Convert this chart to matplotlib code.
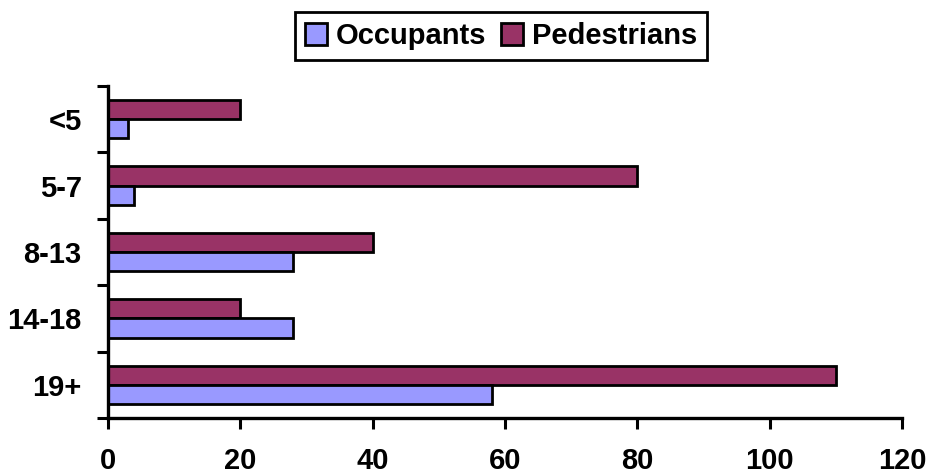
import matplotlib
matplotlib.use("Agg")
import matplotlib.pyplot as plt
import numpy as np
from matplotlib.ticker import FixedLocator

categories = ["<5", "5-7", "8-13", "14-18", "19+"]
occupants = [3, 4, 28, 28, 58]
pedestrians = [20, 80, 40, 20, 110]
xticks = [0, 20, 40, 60, 80, 100, 120]

plt.rcParams['font.family'] = ['Liberation Sans', 'DejaVu Sans']
plt.rcParams['font.weight'] = 'bold'

fig = plt.figure(figsize=(9.27, 4.75), dpi=100)
ax = fig.add_axes([108/927, 1-418/475, (902-108)/927, (418-86)/475])

y = np.arange(len(categories))
h = 0.29
ax.barh(y - h/2, pedestrians, height=h, color='#993366', edgecolor='black', linewidth=2.0, label='Pedestrians')
ax.barh(y + h/2, occupants, height=h, color='#9999FF', edgecolor='black', linewidth=2.0, label='Occupants')

ax.set_xlim(0, 120)
ax.set_ylim(len(categories) - 0.5, -0.5)
ax.set_xticks(xticks)
ax.set_xticklabels([str(v) for v in xticks], fontsize=21, fontweight='bold')
ax.set_yticks(y)
ax.set_yticklabels(categories, fontsize=21, fontweight='bold')
ax.yaxis.set_minor_locator(FixedLocator(np.arange(len(categories) + 1) - 0.5))
ax.tick_params(axis='y', which='major', length=0, pad=19)
ax.tick_params(axis='y', which='minor', length=8, width=2.2)
ax.tick_params(axis='x', which='major', length=8, width=2.2, pad=13, direction='out')

for s in ['top', 'right']:
    ax.spines[s].set_visible(False)
for s in ['left', 'bottom']:
    ax.spines[s].set_linewidth(2.4)

handles, labels = ax.get_legend_handles_labels()
leg = fig.legend(handles[::-1], labels[::-1], loc='upper center', bbox_to_anchor=(501/927, 1-12/475),
                 ncol=2, prop={'weight': 'bold', 'size': 21}, frameon=True, fancybox=False,
                 edgecolor='black', framealpha=1, handlelength=0.75, handleheight=0.75, handletextpad=0.3,
                 columnspacing=0.5, borderpad=0.35, borderaxespad=0)
leg.get_frame().set_linewidth(2.0)

fig.savefig('out.png', dpi=100)
